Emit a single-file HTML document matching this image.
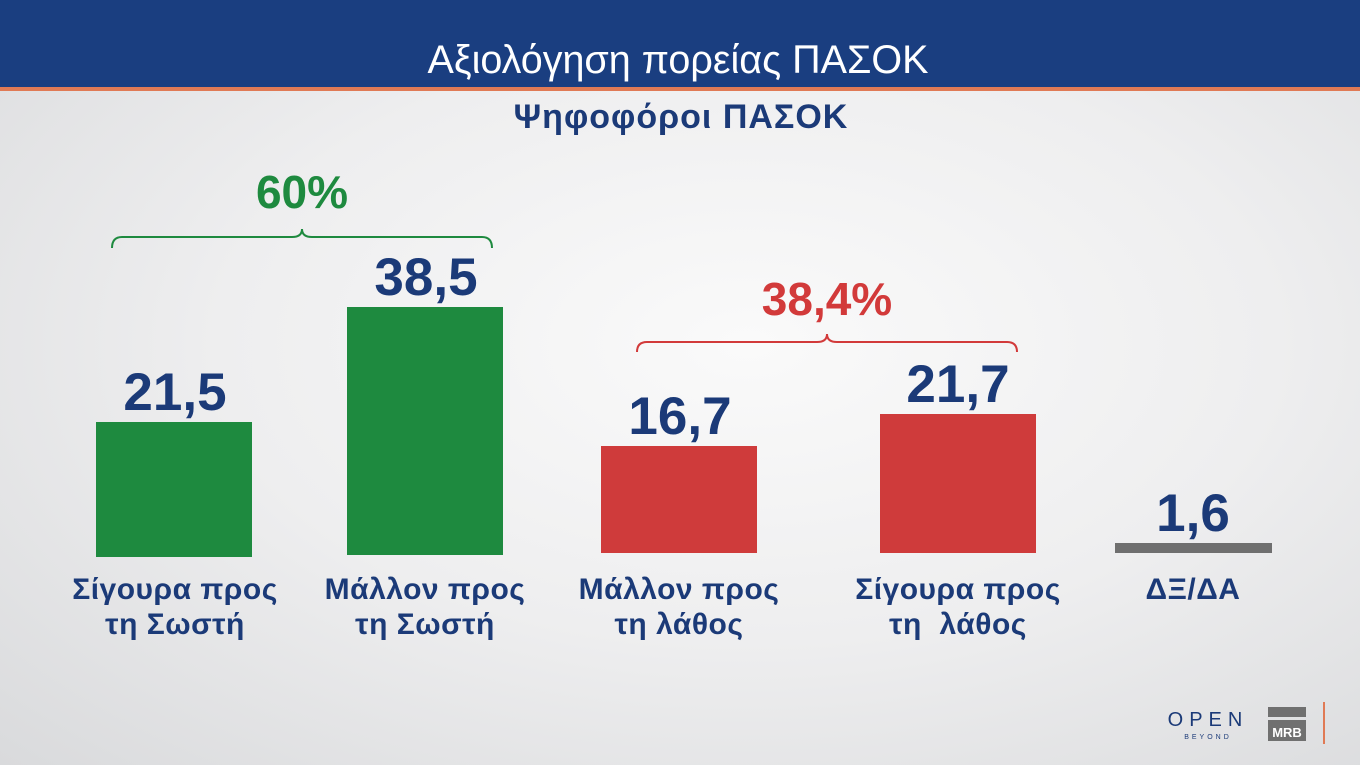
<!DOCTYPE html>
<html><head><meta charset="utf-8"><style>
body{margin:0;width:1360px;height:765px;overflow:hidden;font-family:"Liberation Sans","DejaVu Sans",sans-serif;position:relative;
background:radial-gradient(ellipse at 55% 45%,#fafafa 0%,#eeeeef 50%,#d9dadc 100%);}
.hdr{position:absolute;left:0;top:0;width:1360px;height:87px;background:#1a3e80;}
.ol{position:absolute;left:0;top:87px;width:1360px;height:4px;background:#e07a55;}
.t{position:absolute;white-space:nowrap;transform:translateX(-50%);}
.bar{position:absolute;}
.v{font-weight:bold;font-size:53px;color:#1b3a78;}
.l{font-weight:bold;font-size:30px;letter-spacing:0.5px;color:#1b3a78;text-align:center;line-height:35px;}
</style></head><body>
<div class="hdr"></div><div class="ol"></div>
<div class="t" style="left:678px;top:38px;color:#fff;font-size:39.5px;">Αξιολόγηση πορείας ΠΑΣΟΚ</div>
<div class="t" style="left:681px;top:98px;color:#1b3a78;font-size:34px;font-weight:bold;letter-spacing:1px;">Ψηφοφόροι ΠΑΣΟΚ</div>

<div class="t" style="left:302px;top:165px;color:#1e8a3f;font-size:46px;font-weight:bold;">60%</div>
<div class="t" style="left:827px;top:272px;color:#d23a3a;font-size:46px;font-weight:bold;">38,4%</div>
<svg width="1360" height="765" style="position:absolute;left:0;top:0">
<path d="M112 248 Q112 237 122 237 L292 237 Q302 237 302 229 Q302 237 312 237 L482 237 Q492 237 492 248" fill="none" stroke="#1e8a3f" stroke-width="2"/>
<path d="M637 352 Q637 342 647 342 L817 342 Q827 342 827 334 Q827 342 837 342 L1007 342 Q1017 342 1017 352" fill="none" stroke="#d23a3a" stroke-width="2"/>
<text x="1208" y="726" font-size="20" fill="#1b3a78" text-anchor="middle" letter-spacing="6">OPEN</text>
<text x="1208" y="739" font-size="7" fill="#1b3a78" text-anchor="middle" letter-spacing="3">BEYOND</text>
<rect x="1268" y="707" width="38" height="10" fill="#707070"/>
<rect x="1268" y="720" width="38" height="21" fill="#707070"/>
<text x="1287" y="737" font-size="13" font-weight="bold" fill="#fff" text-anchor="middle">MRB</text>
<rect x="1323" y="702" width="2" height="42" fill="#e07a55"/>
</svg>

<div class="bar" style="left:96px;top:422px;width:156px;height:135px;background:#1e8a3f"></div>
<div class="bar" style="left:347px;top:307px;width:156px;height:248px;background:#1e8a3f"></div>
<div class="bar" style="left:601px;top:446px;width:156px;height:107px;background:#cf3b3b"></div>
<div class="bar" style="left:880px;top:414px;width:156px;height:139px;background:#cf3b3b"></div>
<div class="bar" style="left:1115px;top:543px;width:157px;height:10px;background:#6f6f6f"></div>

<div class="t v" style="left:175px;top:362px">21,5</div>
<div class="t v" style="left:426px;top:247px">38,5</div>
<div class="t v" style="left:680px;top:386px">16,7</div>
<div class="t v" style="left:958px;top:354px">21,7</div>
<div class="t v" style="left:1193px;top:483px">1,6</div>

<div class="t l" style="left:175px;top:572px">Σίγουρα προς<br>τη Σωστή</div>
<div class="t l" style="left:425px;top:572px">Μάλλον προς<br>τη Σωστή</div>
<div class="t l" style="left:679px;top:572px">Μάλλον προς<br>τη λάθος</div>
<div class="t l" style="left:958px;top:572px">Σίγουρα προς<br>τη&nbsp; λάθος</div>
<div class="t l" style="left:1193px;top:572px">ΔΞ/ΔΑ</div>
</body></html>
